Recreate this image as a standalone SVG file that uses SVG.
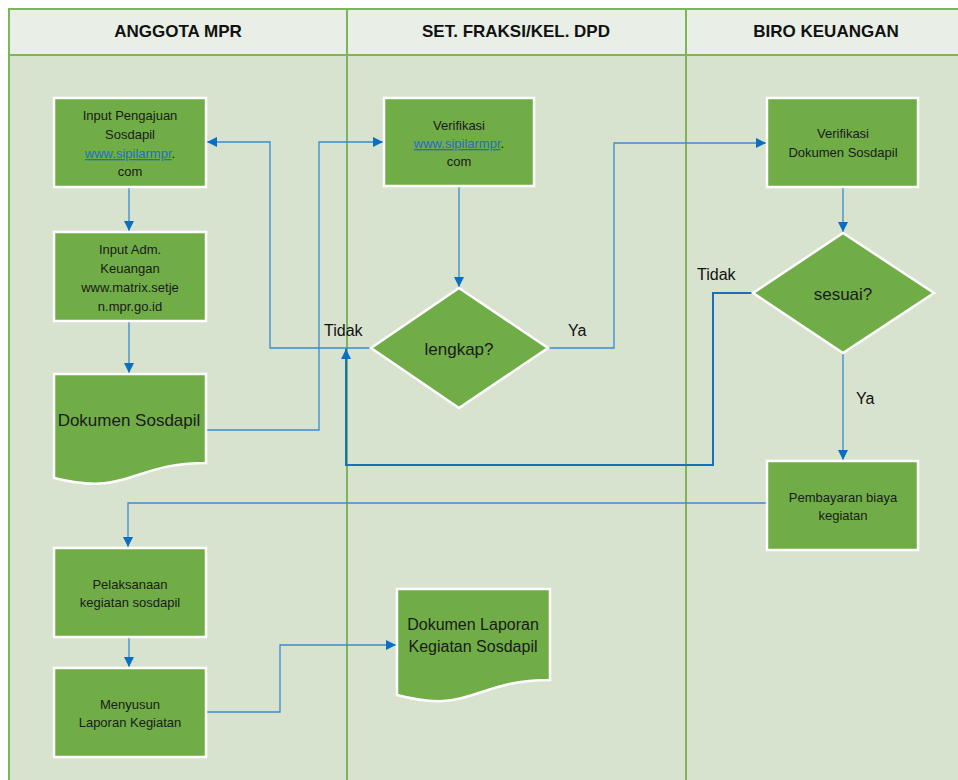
<svg xmlns="http://www.w3.org/2000/svg" width="958" height="780" viewBox="0 0 958 780">
<defs>
<style>
.hdr{fill:#e9efe6}
.body{fill:#d8e3cf}
.grid{stroke:#7db55a;stroke-width:2;fill:none}
.box{fill:#70ad47;stroke:#ffffff;stroke-width:2.5}
.t{font-family:"Liberation Sans",Arial,sans-serif;font-size:13px;fill:#1a1a1a;text-anchor:middle}
.tb{font-family:"Liberation Sans",Arial,sans-serif;font-size:17px;fill:#1a1a1a;text-anchor:middle}
.h{font-family:"Liberation Sans",Arial,sans-serif;font-size:17px;font-weight:bold;fill:#111;text-anchor:middle}
.lbl{font-family:"Liberation Sans",Arial,sans-serif;font-size:16px;fill:#111}
.link{fill:#1f6fc6;text-decoration:underline}
.c{fill:none;stroke:#3a8ad0;stroke-width:1.3}
.c2{fill:none;stroke:#1a6fbb;stroke-width:2}
</style>
<marker id="ar" viewBox="0 0 10 10" refX="10" refY="5" markerWidth="10" markerHeight="10" markerUnits="userSpaceOnUse" orient="auto">
<path d="M0,0 L10,5 L0,10 z" fill="#0a6fc2"/>
</marker>
</defs>
<rect x="0" y="0" width="958" height="780" fill="#ffffff"/>
<rect class="hdr" x="9" y="9" width="949" height="46"/>
<rect class="body" x="9" y="55" width="949" height="725"/>
<g id="grid">
<path class="grid" d="M958,9 H9 V780 M9,55 H958 M347,9 V780 M686,9 V780"/>
</g>
<g id="headers">
<text class="h" x="178" y="37">ANGGOTA MPR</text>
<text class="h" x="516" y="37">SET. FRAKSI/KEL. DPD</text>
<text class="h" x="826" y="37">BIRO KEUANGAN</text>
</g>
<g id="connectors">
<path class="c" d="M129,187 V231" marker-end="url(#ar)"/>
<path class="c" d="M129,321 V373" marker-end="url(#ar)"/>
<path class="c" d="M206,430 H319 V142 H383" marker-end="url(#ar)"/>
<path class="c" d="M371,348 H270 V142 H207" marker-end="url(#ar)"/>
<path class="c" d="M459,186 V287" marker-end="url(#ar)"/>
<path class="c" d="M548,348 H614 V143 H766" marker-end="url(#ar)"/>
<path class="c" d="M843,187 V232" marker-end="url(#ar)"/>
<path class="c2" d="M753,293 H713 V465 H346 V349" marker-end="url(#ar)"/>
<path class="c" d="M843,353 V460" marker-end="url(#ar)"/>
<path class="c" d="M767,503 H128 V547" marker-end="url(#ar)"/>
<path class="c" d="M129,637 V667" marker-end="url(#ar)"/>
<path class="c" d="M206,712 H280 V645 H396" marker-end="url(#ar)"/>
<text class="lbl" x="324" y="336">Tidak</text>
<text class="lbl" x="568" y="336">Ya</text>
<text class="lbl" x="697" y="280">Tidak</text>
<text class="lbl" x="856" y="404">Ya</text>
</g>
<g id="input-pengajuan">
<rect class="box" x="54" y="98" width="152" height="89"/>
<text class="t" x="130" y="120">Input Pengajuan</text>
<text class="t" x="130" y="139">Sosdapil</text>
<text class="t" x="130" y="158"><tspan class="link">www.sipilarmpr</tspan>.</text>
<text class="t" x="130" y="176">com</text>
</g>
<g id="input-adm">
<rect class="box" x="54" y="232" width="152" height="89"/>
<text class="t" x="130" y="254">Input Adm.</text>
<text class="t" x="130" y="273">Keuangan</text>
<text class="t" x="130" y="292">www.matrix.setje</text>
<text class="t" x="130" y="311">n.mpr.go.id</text>
</g>
<g id="dokumen-sosdapil">
<path class="box" d="M54,374 H206 V463 C130,463 130,497 54,478 Z"/>
<text class="tb" x="129" y="426">Dokumen Sosdapil</text>
</g>
<g id="verifikasi-web">
<rect class="box" x="384" y="98" width="150" height="88"/>
<text class="t" x="459" y="130">Verifikasi</text>
<text class="t" x="459" y="148"><tspan class="link">www.sipilarmpr</tspan>.</text>
<text class="t" x="459" y="166">com</text>
</g>
<g id="lengkap">
<path class="box" d="M459,288 L548,348 L459,408 L371,348 Z"/>
<text class="tb" x="459" y="355">lengkap?</text>
</g>
<g id="verifikasi-dokumen">
<rect class="box" x="767" y="98" width="151" height="89"/>
<text class="t" x="843" y="138">Verifikasi</text>
<text class="t" x="843" y="157">Dokumen Sosdapil</text>
</g>
<g id="sesuai">
<path class="box" d="M843,233 L934,293 L843,353 L753,293 Z"/>
<text class="tb" x="843" y="300">sesuai?</text>
</g>
<g id="pembayaran">
<rect class="box" x="767" y="461" width="151" height="89"/>
<text class="t" x="843" y="502">Pembayaran biaya</text>
<text class="t" x="843" y="520">kegiatan</text>
</g>
<g id="pelaksanaan">
<rect class="box" x="54" y="548" width="152" height="89"/>
<text class="t" x="130" y="589">Pelaksanaan</text>
<text class="t" x="130" y="607">kegiatan sosdapil</text>
</g>
<g id="menyusun">
<rect class="box" x="54" y="668" width="152" height="89"/>
<text class="t" x="130" y="709">Menyusun</text>
<text class="t" x="130" y="727">Laporan Kegiatan</text>
</g>
<g id="dokumen-laporan">
<path class="box" d="M397,589 H550 V680 C473,680 473,715 397,695 Z"/>
<text class="tb" x="473" y="630" style="font-size:16px">Dokumen Laporan</text>
<text class="tb" x="473" y="652" style="font-size:16px">Kegiatan Sosdapil</text>
</g>
</svg>
